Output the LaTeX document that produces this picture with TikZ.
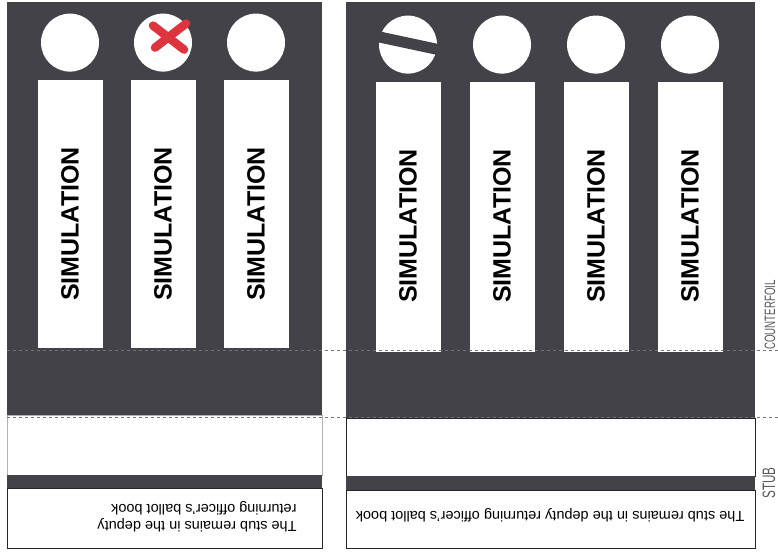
\documentclass[tikz,border=0pt]{standalone}
\usepackage{fontspec}
\setmainfont{Liberation Sans}
\newfontfamily\narrowfont[FakeStretch=0.65]{Liberation Sans}
\usetikzlibrary{positioning}
\definecolor{ballotgray}{RGB}{67,66,73}
\definecolor{markred}{RGB}{222,52,62}

\begin{document}
\begin{tikzpicture}[
    x=1pt, y=-1pt,
    strip/.style={fill=white, minimum width=65pt, inner sep=0pt, font=\fontsize{25}{25}\selectfont\bfseries},
    hole/.style={circle, fill=white, minimum size=58pt, inner sep=0pt},
    cut/.style={dashed, black!55, thin},
    side/.style={font=\narrowfont\fontsize{15}{15}\selectfont, text=black!65, rotate=90},
    note/.style={font=\fontsize{14.5}{17}\selectfont, align=left, rotate=180, inner sep=0pt},
    node distance=8pt
]
    \useasboundingbox (0,0) rectangle (778,557);

    % Left ballot
    \fill[ballotgray] (7,2) rectangle (322,415);
    \draw[black!30, fill=white] (7,415) rectangle (322,475);
    \fill[ballotgray] (7,475) rectangle (322,488);
    \draw[black!85, fill=white] (7,488) rectangle (322,548);

    \node[strip, minimum height=268pt] (l1) at (70,214) {\rotatebox{90}{SIMULATION\hspace*{20pt}}};
    \node[strip, minimum height=268pt] (l2) at (163,214) {\rotatebox{90}{SIMULATION\hspace*{20pt}}};
    \node[strip, minimum height=268pt] (l3) at (256,214) {\rotatebox{90}{SIMULATION\hspace*{20pt}}};

    \node[hole, above=of l1] (lc1) {};
    \node[hole, above=of l2] (lc2) {};
    \node[hole, above=of l3] (lc3) {};

    % the cross on the second hole
    \draw[markred, line width=8.5pt, line cap=round]
        ([shift={(-10,-17)}]lc2.center) -- ([shift={(21,7)}]lc2.center)
        ([shift={(-8,5)}]lc2.center) -- ([shift={(23,-19)}]lc2.center);

    \node[note] (lnote) at (197,517) {The stub remains in the deputy\\returning officer's ballot book};

    % Right ballot
    \fill[ballotgray] (346,2) rectangle (755,418);
    \draw[black!85, fill=white] (346,418) rectangle (755,476);
    \fill[ballotgray] (346,476) rectangle (755,490);
    \draw[black!85, fill=white] (346,490) rectangle (755,548);

    \node[strip, minimum height=270pt] (r1) at (408,217) {\rotatebox{90}{SIMULATION\hspace*{18pt}}};
    \node[strip, minimum height=270pt] (r2) at (502,217) {\rotatebox{90}{SIMULATION\hspace*{18pt}}};
    \node[strip, minimum height=270pt] (r3) at (596,217) {\rotatebox{90}{SIMULATION\hspace*{18pt}}};
    \node[strip, minimum height=270pt] (r4) at (690,217) {\rotatebox{90}{SIMULATION\hspace*{18pt}}};

    \node[hole, above=of r1] (rc1) {};
    \node[hole, above=of r2] (rc2) {};
    \node[hole, above=of r3] (rc3) {};
    \node[hole, above=of r4] (rc4) {};

    % the slash on the first hole
    \draw[ballotgray, line width=11pt]
        ([shift={(-35,-9)}]rc1.center) -- ([shift={(35,6)}]rc1.center);

    \node[note] (rnote) at (550,515) {The stub remains in the deputy returning officer's ballot book};

    % Cut lines and side labels
    \coordinate (cuta) at (7,350);
    \coordinate (cutae) at (778,350);
    \coordinate (cutb) at (7,417);
    \coordinate (cutbe) at (778,417);
    \draw[cut] (cuta) -- (cutae);
    \draw[cut] (cutb) -- (cutbe);

    \node[side] (counterfoil) at (770,315) {COUNTERFOIL};
    \node[side, font=\narrowfont\fontsize{18}{18}\selectfont] (stub) at (769,483) {STUB};
\end{tikzpicture}
\end{document}
